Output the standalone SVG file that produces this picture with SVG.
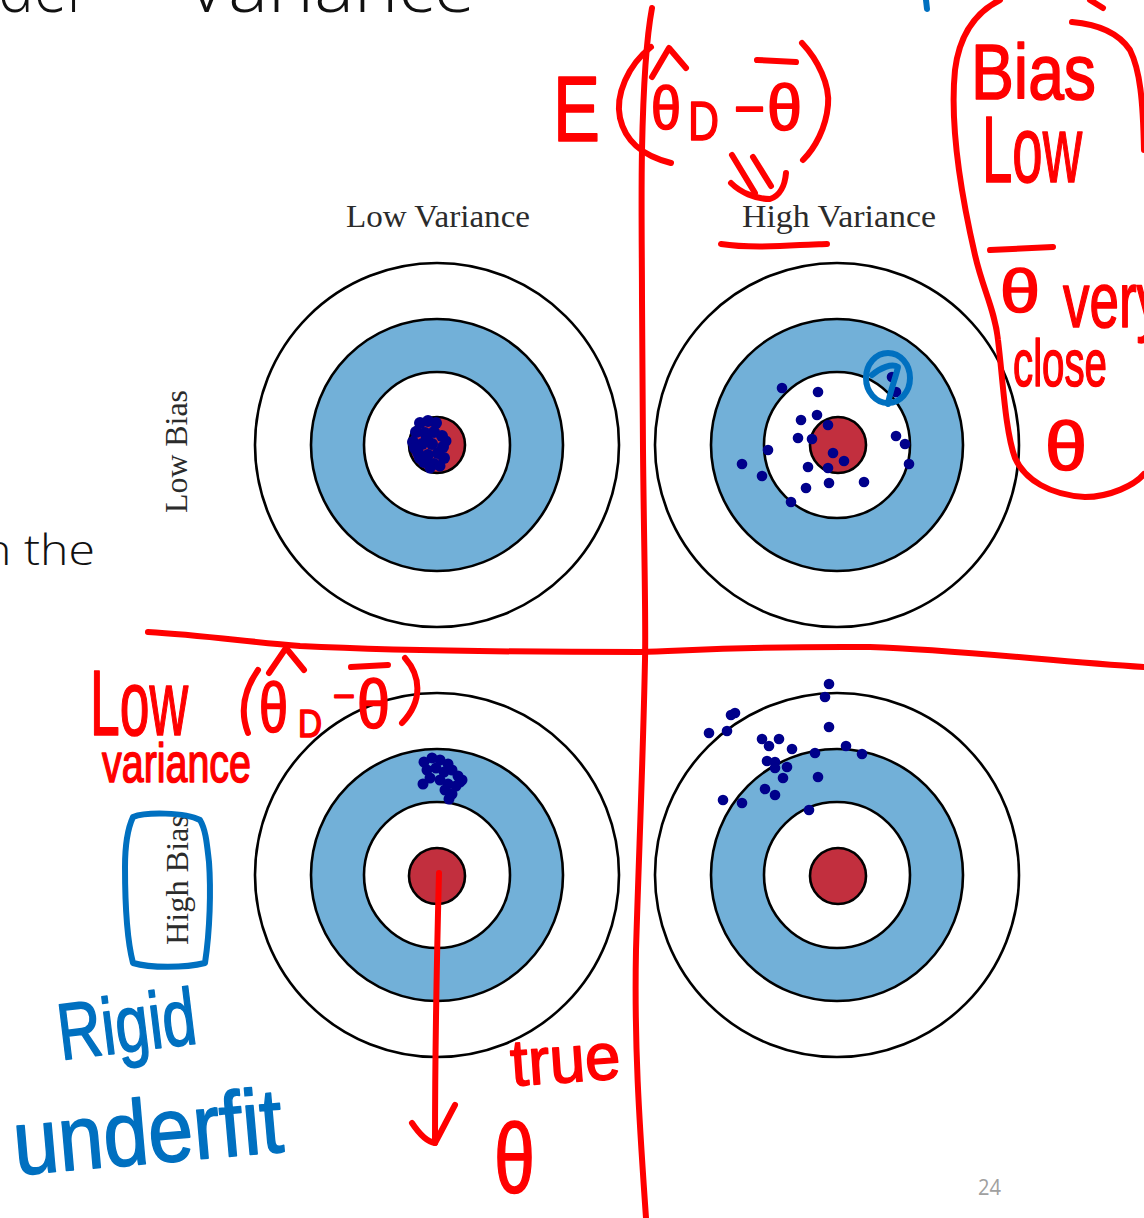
<svg xmlns="http://www.w3.org/2000/svg" width="1144" height="1218" viewBox="0 0 1144 1218">
<style>
.ring{stroke:#000;stroke-width:2.6}
.w{fill:#fff}
.bl{fill:#72b0d8}
.rd{fill:#c22f3e}
.dot{fill:#00008b}
.lbl{font-family:"Liberation Serif",serif;font-size:32px;fill:#2b2b2b}
.slide{font-family:"Open Sans","Liberation Sans",sans-serif;font-weight:300;fill:#111}
.r{fill:none;stroke:#ff0000;stroke-width:6;stroke-linecap:round;stroke-linejoin:round}
.b{fill:none;stroke:#0070c0;stroke-width:6;stroke-linecap:round;stroke-linejoin:round}
.rt{font-family:"Liberation Sans",sans-serif;fill:#ff0000;stroke:#ff0000;stroke-width:1.6;stroke-linejoin:round}
.bt{font-family:"Liberation Sans",sans-serif;fill:#0070c0;stroke:#0070c0;stroke-width:1.6;stroke-linejoin:round}
</style>
<rect width="1144" height="1218" fill="#fff"/>

<!-- slide text -->
<g id="slide-text">
<text class="slide" x="-2" y="12" font-size="70" textLength="92" lengthAdjust="spacingAndGlyphs">der</text>
<text class="slide" x="185" y="12" font-size="70" textLength="290" lengthAdjust="spacingAndGlyphs">Variance</text>
<text class="slide" x="-17" y="565" font-size="42" textLength="112" lengthAdjust="spacingAndGlyphs">n the</text>
<text x="978" y="1195" font-family="Open Sans, Liberation Sans, sans-serif" font-size="21" fill="#a0a0a0" textLength="23" lengthAdjust="spacingAndGlyphs">24</text>
</g>

<!-- targets -->
<g id="target-tl">
<circle class="ring w" cx="437" cy="445" r="182"/>
<circle class="ring bl" cx="437" cy="445" r="126"/>
<circle class="ring w" cx="437" cy="445" r="73"/>
<circle class="ring rd" cx="437" cy="445" r="28"/>
<g class="dot">
<circle cx="420" cy="423" r="6"/><circle cx="428" cy="421" r="6"/><circle cx="436" cy="423" r="6"/>
<circle cx="416" cy="432" r="6"/><circle cx="425" cy="433" r="6"/><circle cx="434" cy="432" r="6"/>
<circle cx="442" cy="436" r="6"/><circle cx="413" cy="442" r="6"/><circle cx="422" cy="444" r="6"/>
<circle cx="432" cy="444" r="6"/><circle cx="443" cy="447" r="6"/><circle cx="418" cy="453" r="6"/>
<circle cx="428" cy="455" r="6"/><circle cx="438" cy="453" r="6"/><circle cx="444" cy="458" r="6"/>
<circle cx="424" cy="462" r="6"/><circle cx="434" cy="464" r="6"/><circle cx="430" cy="468" r="5.5"/>
<circle cx="440" cy="466" r="5.5"/><circle cx="415" cy="448" r="6"/><circle cx="446" cy="441" r="5.5"/>
<circle cx="427" cy="439" r="6"/><circle cx="420" cy="458" r="6"/>
</g>
</g>

<g id="target-tr">
<circle class="ring w" cx="837" cy="445" r="182"/>
<circle class="ring bl" cx="837" cy="445" r="126"/>
<circle class="ring w" cx="837" cy="445" r="73"/>
<circle class="ring rd" cx="838" cy="445" r="28"/>
<g class="dot">
<circle cx="782" cy="388" r="5.3"/><circle cx="818" cy="392" r="5.3"/><circle cx="801" cy="420" r="5.3"/>
<circle cx="817" cy="415" r="5.3"/><circle cx="828" cy="425" r="5.3"/><circle cx="798" cy="438" r="5.3"/>
<circle cx="812" cy="439" r="5.3"/><circle cx="768" cy="450" r="5.3"/><circle cx="742" cy="464" r="5.3"/>
<circle cx="762" cy="476" r="5.3"/><circle cx="808" cy="467" r="5.3"/><circle cx="833" cy="453" r="5.3"/>
<circle cx="844" cy="461" r="5.3"/><circle cx="828" cy="468" r="5.3"/><circle cx="829" cy="483" r="5.3"/>
<circle cx="806" cy="488" r="5.3"/><circle cx="791" cy="502" r="5.3"/><circle cx="864" cy="482" r="5.3"/>
<circle cx="896" cy="436" r="5.3"/><circle cx="905" cy="444" r="5.3"/><circle cx="909" cy="464" r="5.3"/>
<circle cx="892" cy="377" r="5.3"/><circle cx="896" cy="392" r="5.3"/>
</g>
</g>

<g id="target-bl">
<circle class="ring w" cx="437" cy="875" r="182"/>
<circle class="ring bl" cx="437" cy="875" r="126"/>
<circle class="ring w" cx="437" cy="875" r="73"/>
<circle class="ring rd" cx="437" cy="876" r="28"/>
<g class="dot">
<circle cx="424" cy="762" r="5.5"/><circle cx="432" cy="758" r="5.5"/><circle cx="440" cy="760" r="5.5"/>
<circle cx="448" cy="764" r="5.5"/><circle cx="427" cy="770" r="5.5"/><circle cx="436" cy="768" r="5.5"/>
<circle cx="444" cy="772" r="5.5"/><circle cx="452" cy="770" r="5.5"/><circle cx="458" cy="776" r="5.5"/>
<circle cx="462" cy="780" r="5.5"/><circle cx="430" cy="778" r="5.5"/><circle cx="440" cy="780" r="5.5"/>
<circle cx="448" cy="784" r="5.5"/><circle cx="456" cy="786" r="5.5"/><circle cx="423" cy="784" r="5.5"/>
<circle cx="445" cy="790" r="5.5"/><circle cx="452" cy="794" r="5.5"/><circle cx="449" cy="799" r="5.5"/>
<circle cx="460" cy="782" r="5.5"/>
</g>
</g>

<g id="target-br">
<circle class="ring w" cx="837" cy="875" r="182"/>
<circle class="ring bl" cx="837" cy="875" r="126"/>
<circle class="ring w" cx="837" cy="875" r="73"/>
<circle class="ring rd" cx="838" cy="876" r="28"/>
<g class="dot">
<circle cx="829" cy="684" r="5.3"/><circle cx="825" cy="697" r="5.3"/><circle cx="731" cy="715" r="5.3"/>
<circle cx="735" cy="713" r="5.3"/><circle cx="709" cy="733" r="5.3"/><circle cx="727" cy="731" r="5.3"/>
<circle cx="829" cy="727" r="5.3"/><circle cx="762" cy="739" r="5.3"/><circle cx="779" cy="739" r="5.3"/>
<circle cx="769" cy="746" r="5.3"/><circle cx="792" cy="749" r="5.3"/><circle cx="815" cy="753" r="5.3"/>
<circle cx="846" cy="746" r="5.3"/><circle cx="862" cy="754" r="5.3"/><circle cx="767" cy="761" r="5.3"/>
<circle cx="775" cy="762" r="5.3"/><circle cx="775" cy="768" r="5.3"/><circle cx="787" cy="767" r="5.3"/>
<circle cx="783" cy="778" r="5.3"/><circle cx="818" cy="777" r="5.3"/><circle cx="765" cy="789" r="5.3"/>
<circle cx="775" cy="795" r="5.3"/><circle cx="723" cy="800" r="5.3"/><circle cx="742" cy="803" r="5.3"/>
<circle cx="809" cy="810" r="5.3"/>
</g>
</g>

<!-- printed labels -->
<g id="labels">
<text class="lbl" x="346" y="227" textLength="184" lengthAdjust="spacingAndGlyphs">Low Variance</text>
<text class="lbl" x="742" y="227" textLength="194" lengthAdjust="spacingAndGlyphs">High Variance</text>
<text class="lbl" transform="translate(187 513) rotate(-90)" textLength="123" lengthAdjust="spacingAndGlyphs">Low Bias</text>
<text class="lbl" transform="translate(188 945) rotate(-90)" textLength="130" lengthAdjust="spacingAndGlyphs">High Bias</text>
</g>

<!-- red annotations -->
<g id="red-annotations">
<path class="r" d="M652 8 C646 40 643 100 642 150 C641 200 642 260 642 300 L643 450 C644 550 646 620 645 660 C643 760 639 850 636 950 C634 1050 640 1130 646 1218"/>
<path class="r" d="M148 632 C200 635 250 642 300 646 C400 651 500 652 640 652 C700 650 760 646 870 647 C960 650 1050 661 1144 667"/>
<!-- E(θ̂D − θ̄) -->
<text class="rt" x="553" y="141" font-size="92" textLength="47" lengthAdjust="spacingAndGlyphs">E</text>
<path class="r" d="M651 47 C628 65 615 95 620 118 C625 140 640 155 671 163"/>
<path class="r" d="M652 77 L669 48 L686 68"/>
<text class="rt" x="651" y="129" font-size="62" textLength="30" lengthAdjust="spacingAndGlyphs">θ</text>
<text class="rt" x="688" y="140" font-size="56" textLength="31" lengthAdjust="spacingAndGlyphs">D</text>
<text class="rt" x="734" y="128" font-size="56" textLength="31" lengthAdjust="spacingAndGlyphs">−</text>
<path class="r" d="M757 60 L796 62"/>
<text class="rt" x="767" y="130" font-size="64" textLength="35" lengthAdjust="spacingAndGlyphs">θ</text>
<path class="r" d="M802 43 C818 60 830 85 828 105 C826 128 815 148 803 160"/>
<path class="r" d="M721 244 C740 247 770 247 800 245 C812 245 822 244 827 244"/>
<!-- right box -->
<path class="r" d="M1000 0 C980 10 960 30 955 70 C950 120 960 190 975 255 C983 290 995 310 998 340 C1003 380 1005 430 1015 458 C1025 480 1050 495 1085 497 C1110 497 1135 485 1144 474"/>
<path class="r" d="M1072 22 C1095 24 1118 32 1130 50 C1140 70 1143 100 1144 150"/>
<path class="r" d="M1090 0 L1103 8"/>
<text class="rt" x="971" y="99" font-size="78" textLength="125" lengthAdjust="spacingAndGlyphs">Bias</text>
<text class="rt" x="982" y="182" font-size="94" textLength="100" lengthAdjust="spacingAndGlyphs">Low</text>
<path class="r" d="M990 250 L1053 247"/>
<text class="rt" x="1000" y="312" font-size="62" textLength="40" lengthAdjust="spacingAndGlyphs">θ</text>
<text class="rt" x="1063" y="327" font-size="78" textLength="100" lengthAdjust="spacingAndGlyphs">very</text>
<text class="rt" x="1013" y="386" font-size="66" textLength="94" lengthAdjust="spacingAndGlyphs">close</text>
<text class="rt" x="1045" y="470" font-size="68" textLength="42" lengthAdjust="spacingAndGlyphs">θ</text>
<!-- bottom-left -->
<text class="rt" x="90" y="735" font-size="92" textLength="98" lengthAdjust="spacingAndGlyphs">Low</text>
<text class="rt" x="102" y="782" font-size="56" textLength="149" lengthAdjust="spacingAndGlyphs">variance</text>
<path class="r" d="M258 670 C244 690 240 712 248 733"/>
<path class="r" d="M269 673 L286 648 L304 670"/>
<text class="rt" x="259" y="732" font-size="70" textLength="29" lengthAdjust="spacingAndGlyphs">θ</text>
<text class="rt" x="298" y="737" font-size="38" textLength="24" lengthAdjust="spacingAndGlyphs">D</text>
<text class="rt" x="333" y="709" font-size="38" textLength="22" lengthAdjust="spacingAndGlyphs">−</text>
<path class="r" d="M351 667 L388 665"/>
<text class="rt" x="357" y="728" font-size="68" textLength="33" lengthAdjust="spacingAndGlyphs">θ</text>
<path class="r" d="M405 658 C420 675 424 700 402 723"/>
<text class="rt" x="512" y="1086" font-size="66" textLength="110" lengthAdjust="spacingAndGlyphs" transform="rotate(-4 512 1086)">true</text>
<text class="rt" x="494" y="1192" font-size="98" textLength="41" lengthAdjust="spacingAndGlyphs">θ</text>
</g>

<!-- connectors -->
<g id="connectors">
<path class="r" d="M439 873 C437 950 435 1050 435 1143"/>
<path class="r" d="M412 1123 C420 1135 428 1142 435 1143 C442 1130 448 1118 455 1105"/>
<path class="r" d="M732 155 L755 193"/>
<path class="r" d="M753 157 L771 186"/>
<path class="r" d="M731 183 C740 192 755 199 770 199 C780 196 785 185 786 173"/>
</g>

<!-- blue annotations -->
<g id="blue-annotations">
<path class="b" d="M926 0 L927 9"/>
<ellipse class="b" cx="888" cy="378" rx="22" ry="25" stroke-width="5"/>
<path class="b" stroke-width="5" d="M872 375 C880 368 892 363 898 367 C895 380 890 392 888 404"/>
<path class="b" d="M133 817 C145 812 185 812 200 820 C206 830 207 845 209 862 C211 890 210 930 205 963 C185 968 150 968 133 963 C127 940 125 900 125 867 C125 845 127 830 133 817 Z"/>
<text class="bt" x="61" y="1060" font-size="80" textLength="139" lengthAdjust="spacingAndGlyphs" transform="rotate(-7 61 1060)">Rigid</text>
<text class="bt" x="16" y="1175" font-size="92" textLength="270" lengthAdjust="spacingAndGlyphs" transform="rotate(-5 16 1175)">underfit</text>
</g>
</svg>
